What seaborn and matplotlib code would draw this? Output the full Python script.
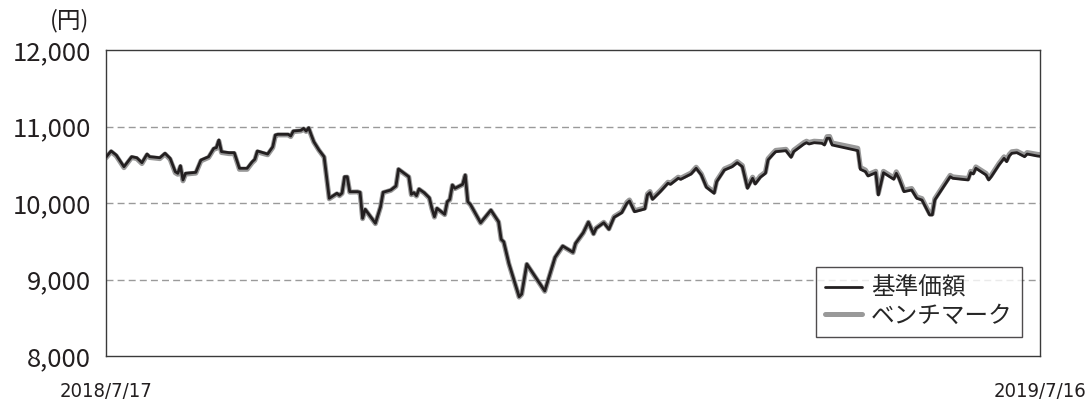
import pandas as pd
import numpy as np
import matplotlib
matplotlib.use("Agg")
import matplotlib.pyplot as plt
import matplotlib.dates as mdates
import seaborn as sns

# dias desde 2018/7/17 e valores
start = pd.Timestamp("2018-07-17")
days = [0, 2, 4, 7, 10, 12, 14, 16, 17, 21,
        23, 25, 27, 28, 29, 30, 31, 35, 37, 40,
        42, 43, 44, 45, 48, 50, 52, 55, 57, 58,
        59, 63, 65, 66, 67, 71, 72, 73, 76, 77,
        78, 79, 80, 81, 83, 85, 87, 90, 91, 92,
        93, 94, 95, 98, 99, 100, 101, 105, 107, 108,
        111, 113, 114, 118, 119, 120, 121, 122, 124, 126,
        127, 128, 129, 132, 133, 134, 135, 136, 139, 140,
        141, 142, 146, 150, 153, 154, 155, 157, 161, 162,
        164, 171, 175, 178, 182, 183, 186, 188, 190, 191,
        194, 196, 198, 201, 203, 204, 206, 210, 211, 212,
        213, 216, 219, 220, 223, 224, 228, 230, 232, 234,
        237, 238, 241, 244, 246, 248, 250, 252, 253, 255,
        257, 258, 260, 261, 265, 267, 268, 272, 273, 274,
        276, 279, 280, 281, 282, 283, 293, 294, 296, 297,
        300, 301, 303, 307, 308, 309, 311, 314, 316, 318,
        320, 321, 322, 323, 326, 329, 330, 336, 337, 338,
        339, 343, 344, 345, 348, 350, 351, 352, 353, 355,
        356, 358, 359, 363, 364]

nav = [10600, 10680, 10627, 10474, 10605, 10592, 10527, 10640, 10605, 10592,
       10650, 10584, 10409, 10388, 10488, 10301, 10388, 10401, 10562, 10605,
       10715, 10723, 10824, 10671, 10658, 10658, 10454, 10454, 10540, 10571,
       10680, 10640, 10736, 10889, 10898, 10898, 10876, 10941, 10950, 10976,
       10941, 10984, 10889, 10801, 10693, 10605, 10061, 10127, 10100, 10130,
       10344, 10344, 10148, 10148, 10140, 9800, 9918, 9735, 9952, 10140,
       10170, 10222, 10444, 10344, 10114, 10135, 10095, 10183, 10135, 10069,
       9931, 9821, 9931, 9852, 10017, 10048, 10235, 10192, 10244, 10366,
       10017, 9983, 9742, 9908, 9755, 9525, 9494, 9212, 8775, 8810,
       9203, 8850, 9290, 9438, 9356, 9473, 9612, 9750, 9595, 9669,
       9742, 9656, 9813, 9873, 9996, 10026, 9886, 9922, 10105, 10135,
       10048, 10148, 10258, 10244, 10323, 10310, 10379, 10454, 10366, 10205,
       10127, 10278, 10431, 10474, 10527, 10474, 10192, 10323, 10248, 10336,
       10388, 10562, 10637, 10671, 10684, 10597, 10671, 10771, 10788, 10771,
       10788, 10780, 10758, 10846, 10846, 10758, 10684, 10440, 10409, 10353,
       10396, 10105, 10396, 10310, 10388, 10323, 10148, 10170, 10061, 10039,
       9908, 9843, 9843, 10039, 10192, 10344, 10323, 10301, 10396, 10379,
       10454, 10366, 10301, 10344, 10497, 10584, 10540, 10614, 10650, 10658,
       10640, 10605, 10640, 10614, 10610]

bench = [10590, 10670, 10615, 10462, 10595, 10580, 10515, 10628, 10595, 10580,
         10640, 10570, 10395, 10375, 10475, 10290, 10378, 10390, 10550, 10595,
         10705, 10712, 10810, 10660, 10645, 10645, 10440, 10440, 10528, 10560,
         10668, 10630, 10725, 10880, 10890, 10890, 10868, 10932, 10942, 10968,
         10935, 10975, 10882, 10795, 10688, 10598, 10055, 10120, 10095, 10125,
         10335, 10338, 10142, 10145, 10135, 9795, 9912, 9730, 9948, 10135,
         10165, 10218, 10438, 10340, 10108, 10130, 10090, 10178, 10130, 10062,
         9925, 9815, 9925, 9848, 10012, 10042, 10230, 10188, 10240, 10360,
         10012, 9978, 9738, 9902, 9750, 9520, 9488, 9205, 8770, 8805,
         9198, 8845, 9285, 9433, 9352, 9468, 9608, 9748, 9598, 9672,
         9748, 9662, 9822, 9885, 10010, 10040, 9900, 9936, 10118, 10150,
         10062, 10162, 10272, 10260, 10338, 10325, 10393, 10468, 10380, 10220,
         10142, 10292, 10446, 10490, 10542, 10490, 10208, 10338, 10264, 10352,
         10404, 10578, 10654, 10688, 10702, 10615, 10690, 10790, 10808, 10792,
         10808, 10802, 10780, 10868, 10870, 10785, 10715, 10465, 10430, 10372,
         10415, 10122, 10414, 10330, 10408, 10342, 10168, 10190, 10080, 10058,
         9926, 9860, 9858, 10055, 10210, 10362, 10342, 10320, 10414, 10398,
         10472, 10386, 10320, 10362, 10516, 10604, 10560, 10634, 10670, 10678,
         10660, 10626, 10660, 10636, 10632]

yticks = [8000, 9000, 10000, 11000, 12000]
ytick_labels = ["8,000", "9,000", "10,000", "11,000", "12,000"]
xtick_labels = ["2018/7/17", "2019/7/16"]
series_names = ["基準価額", "ベンチマーク"]

dates = start + pd.to_timedelta(days, unit="D")
df = pd.DataFrame({"date": dates, "nav": nav, "bench": bench})

sns.set_style("white")
plt.rcParams["font.family"] = ["Noto Sans CJK JP", "DejaVu Sans"]

fig = plt.figure(figsize=(10.9, 4.0), dpi=100)
ax = fig.add_axes([106 / 1090, 1 - 356 / 400, 934 / 1090, 306 / 400])

sns.lineplot(data=df, x="date", y="bench", ax=ax, color="#999999",
             linewidth=3.6, label=series_names[1], zorder=2)
sns.lineplot(data=df, x="date", y="nav", ax=ax, color="#231f20",
             linewidth=2.0, label=series_names[0], zorder=3)

ax.set_xlim(dates[0], dates[-1])
ax.set_ylim(8000, 12000)
ax.set_yticks(yticks)
ax.set_yticklabels(ytick_labels, fontsize=18.5, color="#231f20")
ax.set_xticks([dates[0], dates[-1]])
ax.set_xticklabels(xtick_labels, fontsize=14.5, color="#231f20",
                   family="DejaVu Sans", fontstretch="condensed")
ax.tick_params(axis="y", length=0, pad=11)
ax.tick_params(axis="x", length=0, pad=19)
ax.set_xlabel("")
ax.set_ylabel("")

for y in yticks[1:-1]:
    ax.axhline(y, color="#9a9a9a", linewidth=1.0, linestyle=(0, (5, 3)), zorder=1)

for sp in ax.spines.values():
    sp.set_visible(True)
    sp.set_color("#3a3a3a")
    sp.set_linewidth(1.0)

fig.text(70 / 1090, 1 - 21 / 400, "(円)", fontsize=17, ha="center", va="center",
         color="#231f20")

h, l = ax.get_legend_handles_labels()
leg = ax.legend(h[::-1], l[::-1], loc="lower right", bbox_to_anchor=(0.981, 0.062),
                fontsize=17, frameon=True, fancybox=False, handlelength=1.55,
                handletextpad=0.4, labelspacing=0.2, borderpad=0.4,
                borderaxespad=0)
leg.get_frame().set_edgecolor("#231f20")
leg.get_frame().set_linewidth(1.0)

fig.savefig("out.png", dpi=100)
